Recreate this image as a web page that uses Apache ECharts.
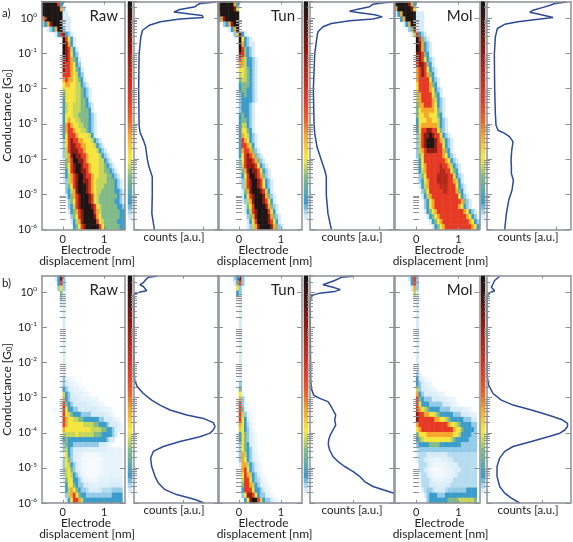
<!DOCTYPE html>
<html><head><meta charset="utf-8">
<style>html,body{margin:0;padding:0;background:#fff}#c{width:573px;height:542px;filter:blur(0.4px)}</style>
<script src="https://cdn.jsdelivr.net/npm/echarts@6/dist/echarts.min.js"></script>
</head><body><div id="c"></div>
<script>
// Each heatmap row runs top to bottom: [first column, level, level, ...]; columns not listed are level 0.
const aRawRows=[
[0,10,10,10,10,10,10,8,3],[0,10,10,10,10,10,10,10,7,2],[0,10,10,10,10,10,10,10,10,1,1],[0,7,9,10,10,10,10,10,10,1,1,1],
[0,2,3,7,9,10,10,10,10,1,1,1],[2,1,2,3,7,10,10,2,1,1],[5,1,3,8,9,3,2,1],[8,10,8,6,3,1],[8,10,9,7,3,1],[8,10,9,8,5,3,1],
[8,10,9,8,6,3,2],[8,9,9,8,7,4,3,1],[8,9,8,8,7,6,3,2],[8,9,8,8,7,6,4,3,1],[8,8,8,8,7,6,5,3,2],[8,7,8,7,7,6,5,4,3,1],
[8,6,7,7,6,6,5,5,3,2,1],[8,5,6,6,6,6,5,5,4,3,2,1],[8,4,6,6,6,6,5,5,4,3,2,1],[8,3,6,6,6,6,5,5,4,4,3,1],[8,3,5,6,6,5,5,5,4,4,3,2,1],
[8,3,5,6,6,5,5,5,4,4,4,3,1],[8,3,6,6,6,5,5,4,4,4,4,3,2,1],[8,3,6,7,6,6,5,5,4,4,4,3,2,1],[8,3,7,8,7,6,6,5,5,4,4,3,2,1],
[8,3,7,8,8,7,6,6,5,5,4,3,2,1],[8,3,6,8,8,8,7,6,6,6,6,5,3,1],[8,2,6,8,9,8,8,7,7,6,6,6,5,3,2,1],[8,2,6,8,9,9,8,8,7,7,6,6,6,5,3,2,1],
[8,2,5,8,9,9,9,8,8,7,6,6,6,6,5,3,2,1],[8,2,5,7,9,10,9,9,8,8,7,6,6,6,6,5,3,2,1],[8,1,4,7,8,10,10,9,9,8,7,6,6,6,6,5,5,3,2,1],
[8,1,4,6,8,9,10,10,9,8,8,7,6,6,6,5,5,4,3,2,1],[8,1,3,6,8,9,10,10,9,9,8,7,6,6,6,5,5,4,4,3,2,1],[8,1,3,5,7,8,9,10,10,9,8,8,7,6,6,5,5,5,4,4,3,2,1],
[8,1,2,5,7,8,9,10,10,9,9,8,7,6,5,5,5,5,4,4,4,3,2,1],[9,2,4,6,8,9,10,10,10,9,8,7,6,5,5,5,4,4,4,4,3,2,1],[9,2,3,5,7,9,10,10,10,9,8,7,6,5,5,4,4,4,4,4,3,3,2,1],
[9,1,3,4,7,8,9,10,10,10,9,8,6,5,4,4,4,4,4,4,4,3,2,1],[10,2,4,6,8,9,10,10,10,9,8,6,5,4,4,4,4,4,4,3,3,2,1],[10,2,3,5,8,9,10,10,10,10,9,8,6,5,4,4,4,4,4,4,3,3,2,1],
[10,1,3,4,7,8,9,10,10,10,10,8,7,5,4,4,4,4,4,4,4,3,3,2,1],[11,2,4,6,8,9,10,10,10,10,9,7,6,4,4,4,4,4,4,4,3,3,2,1],[11,1,3,5,7,9,10,10,10,10,10,8,6,5,4,4,4,4,4,3,3,3,2],[12,3,4,6,8,9,10,10,10,10,10,8,6,4,4,4,4,4,4,3,3]];
const aTunRows=[
[0,10,10,10,10,10,10,7,3],[0,10,10,10,10,10,10,9,5],[0,9,10,10,10,10,10,10,10],[0,3,7,9,10,10,10,10,10],[2,2,3,7,9,10,10],[4,1,3,7,10],[6,2,5,9,3,1],
[8,10,6,3,2,1],[8,10,7,3,2,1,1],[8,10,8,4,3,2,1],[8,9,8,4,3,2,1],[8,8,7,5,3,3,2,1],[8,7,7,5,3,3,2,1],[8,6,6,5,4,3,2,1],[8,5,6,5,4,3,2,1],[8,4,5,5,4,3,2,1],
[8,3,4,4,4,3,2,1],[8,3,4,4,3,3,2,1],[8,2,3,4,3,3,2,1],[8,2,3,3,3,3,2,1],[8,2,3,3,3,2,1],[8,2,3,3,3,2,1],[8,3,4,3,3,2,1],[8,3,4,4,3,2,1],[8,3,5,5,3,2,1],
[8,3,6,6,4,3,1],[8,3,7,6,5,3,2,1],[8,3,8,7,6,3,2,1],[8,3,8,8,7,5,3,1],[8,3,7,8,8,7,4,2,1],[8,3,6,8,9,8,7,4,2,1],[8,2,6,8,9,9,8,7,4,2,1],[8,2,5,8,9,9,9,8,6,3,2,1],
[8,1,4,7,9,10,9,9,8,6,3,2,1],[8,1,3,6,8,10,10,9,8,7,4,2,1],[8,1,2,5,8,9,10,10,9,8,6,3,2,1],[9,2,5,8,9,10,10,9,8,6,3,2,1],[9,1,4,7,9,10,10,10,9,8,5,3,1],
[9,1,3,6,8,9,10,10,10,9,7,4,2,1],[9,1,2,5,7,9,10,10,10,9,8,6,3,1],[10,1,4,6,8,10,10,10,10,9,7,4,2,1],[10,1,3,5,8,9,10,10,10,10,8,6,3,1],[11,2,4,7,9,10,10,10,10,9,7,4,2,1],
[11,1,3,6,8,10,10,10,10,9,8,6,3,1],[11,1,2,5,7,9,10,10,10,10,9,7,4,2,1]];
const aMolRows=[
[0,10,10,10,10,10,9,7,3],[0,7,10,10,10,10,10,9,5],[0,1,3,7,10,10,10,10,10,1,1,1],[2,3,7,10,10,10,10,1,1,1],[3,1,3,7,10,10,1,1,1],[5,2,4,9,1,1,1],[6,1,5,8,3,2,1],
[8,10,8,4,2,1],[8,10,9,7,3,2,1],[8,10,9,7,3,2,1],[8,9,9,8,4,3,1],[8,9,9,8,6,3,2,1],[8,8,9,9,8,4,3,1],[8,7,8,9,8,6,3,2,1],[8,7,8,9,8,7,4,3,1],[8,7,8,8,8,8,6,3,2,1],
[8,6,8,8,8,8,7,4,3,1],[8,6,8,8,8,8,7,6,3,2,1],[8,5,7,8,8,8,8,6,4,3,1],[8,5,7,8,8,8,8,7,5,3,2,1],[8,4,7,7,8,8,8,7,6,3,2,1],[8,4,6,7,7,7,7,7,6,4,2,1],[8,4,6,6,7,7,6,6,6,4,3,1],
[8,3,6,6,6,7,7,6,6,5,3,2,1],[8,3,6,7,7,7,7,7,7,5,3,2,1],[8,3,6,8,8,9,9,8,8,6,4,2,1],[8,2,5,8,9,9,10,9,8,8,6,3,2,1],[8,2,5,8,9,10,10,10,9,8,7,5,3,2,1],[8,2,5,8,9,10,10,10,9,8,8,6,3,2,1],
[8,2,5,7,8,9,9,9,9,8,8,7,4,3,1],[8,2,4,6,8,8,8,8,8,8,8,7,6,3,2,1],[8,1,3,6,8,8,8,8,8,8,8,8,7,6,3,2,1],[8,1,3,6,7,8,8,8,8,8,8.6,8,8,7,5,3,2,1],[8,1,3,5,7,8,8,8,8,8,8.6,8.6,8,8,6,4,3,1],
[9,2,4,6,8,8,8,8,8.6,8.6,8.6,8.6,8,8,6,3,2,1],[9,2,3,6,7,8,8,8,8.6,8.6,8.6,8.6,8,8,7,5,3,1],[9,1,3,5,7,8,8,8,8,8.5,8.5,8.5,8,8,8,6,3,2,1],[10,2,4,6,8,8,8,8,8,8.4,8.4,8,8,8,7,4,3,1],[10,1,3,5,7,8,8,8,8,8,8,8,8,8,8,6,3,2,1],
[11,2,3,6,7,8,8,8,8,8,8,8,8,8,8,7,4,2,1],[11,2,3,6,7,8,8,8,8,8,8,8,8,8,7,6,3,2,1],[11,1,3,4,6,7,8,8,8,8,8,8,8,8,8,8,7,6,3,2,1],[12,1,3,4,6,7,8,8,8,8,8,8,8,8,8,8,7,6,3,2],
[13,1,3,4,6,7,8,8,8,8,8,8,8,8,8,8,7,6,3,2],[14,1,3,4,6,7,8,8,8,8,8,8,8,8,8,8,7,6,3]];
const bRawRows=[
[5,1,3,9,2],[6,3,8,2],[6,2,6,2],[7,4,1],[7,2,1],[7,1,1],[8,1],[8,1],[8,1],[8,1],[8,1],[8,1],[8,1],[8,1],[8,1],[8,1],[8,1],[8,1],[8,1],[8,1],
[8,2,.7,.5,.4,.3],[8,2,1,.7,.6,.5,.4,.3],[8,3,2,1,.8,.7,.6,.5,.4,.3],[8,5,3,2,1,.8,.7,.7,.6,.5,.4,.3],[8,7,3,2,1,1,1,.8,.7,.7,.6,.6,.5,.5,.4],[8,8,4,3,2,1,1,1,1,1,.8,.8,.7,.6,.6,.5,.4],
[8,8,6,3,3,2,2,1,1,1,1,1,1,1,.8,.7,.7,.6,.5,.4],[8,8,6,5,4,3,3,3,2,2,2,2,1,1,1,1,1,.8,.7,.6,.4],[8,8,7,6,6,5,5,4,4,3,3,3,3,3,3,2,2,1,1,1,.8,.6,.4],[8,8,7,6,6,6,6,6,6,5,5,5,5,4,4,3,3,3,2,1,1,1,.8,.5],
[8,7,6,6,6,6,6,6,6,6,6,6,5,5,5,5,4,4,3,3,2,1,.8,.6],[8,5,5,5,5,5,6,5,5,5,5,5,5,4,4,4,3,3,3,3,2,1],[8,3,4,3,3,3,3,3,3,3,3,3,3,3,3,3,3,3,2,1,1],[8,2,4,3,3,2,2,2,2,2,2,2,2,2,2,1,1,1,.7],
[8,2,5,3,2,1,1,1,1,.8,.8,.8,.8,.8,.8,.8,.8,.8,.7,.7,.7,.6,.6,.6],[8,1,6,3,2,1,.8,.7,.6,.4,.3,.3,.3,.3,.4,.5,.6,.6,.6,.6,.6,.6,.6,.6],[8,2,6,4,2,1,.8,.6,.4,.3,.2,.2,.2,.2,.2,.3,.5,.6,.6,.6,.6,.6,.6,.6],[8,2,6,5,3,2,1,.7,.4,.3,.2,.2,.2,.2,.2,.3,.5,.6,.6,.6,.6,.6,.6,.6],
[8,2,5,6,4,2,1,.7,.4,.3,.2,.2,.2,.2,.2,.3,.5,.6,.6,.6,.6,.6,.6,.6],[8,1,5,6,5,3,2,1,.6,.4,.3,.3,.3,.3,.3,.4,.5,.6,.6,.7,.7,.7,.7,.7],[8,1,4,6,6,3,3,2,1,.7,.6,.4,.4,.4,.4,.6,.7,.7,.7,.8,.8,.8,.8,.8],[9,3,6,6,4,3,2,2,1,1,.8,.8,.7,.7,.8,.8,.8,.8,1,1,1,1,1],
[9,3,5,7,6,4,3,2,2,1.5,1,1,1,1,1,1.5,1.5,1.5,1.5,2,2,2,2],[9,2,5,7,8,6,4,3,3,2,2,2,2,2,2,2,2,2,2,3,3,3,3],[9,1,3,6,8,8,7,5,3,3,3,3,3,3,3,3,3,3,3,3,3,3,3]];
const bTunRows=[
[6,2,3,9,2],[6,1,4,8,2],[7,6,2],[7,3,2],[8,1],[8,1],[8,1],[8,1],[8,1],[8,1],[8,1],[8,1],[8,1],[8,1],[8,1],[8,1],[8,1],[8,1],[8,1],[8,1],[8,1],
[8,2],[8,4],[8,6,.8],[8,7,2],[8,8,2,.6],[8,8,4,.8,.4],[8,8,5,2,.7,.4],[8,8,6,3,1,.5],[8,7,6,3,1.5,.7,.3],[8,5,6,3,2,.8,.4],[8,3,6,4,2,1,.6,.3],[8,3,6,4,2,1,.7,.3],[8,2,6,4,3,1,.7,.4],[8,2,6,4,3,2,.8,.5],
[8,2,7,5,3,2,1,.6,.3],[8,2,7,6,3,2,1,.7,.3],[8,1,7,7,5,3,2,1,.6,.3],[9,7,8,6,3,2,1,.7,.3],[9,6,8,7,5,3,2,1,.6,.3],[9,5,8,8,6,3,2,1.5,.8,.5,.3],[9,4,8,8,7,5,3,2,1,.7,.5,.3],[9,3,8,8,8,6,3,3,2,1,.7,.4],[9,2,6,9,9,8,6,3,2,2,1,.7,.4],[10,3,6,9,10,10,8,5,3,2,2,1,.7,.4]];
const bMolRows=[
[5,1,3,8,2],[6,3,8,2],[6,1,7,2],[7,5,1],[7,1,1],[8,1],[8,1],[8,1],[8,1],[8,1],[8,1],[8,1],[8,1],[8,1],[8,1],[8,1],[8,1],[8,1],[8,1],[8,2,.7],
[8,3,1,.7,.4],[8,3,2,1,.8,.6,.4],[8,5,2,1,1,.8,.7,.6,.4],[8,7,3,2,1,1,1,.8,.8,.7,.6,.4],[8,8,4,3,2,2,2,1,1,1,.8,.8,.7,.6,.5,.4],[8,8,6,3,3,3,2,2,2,2,2,1,1,1,.8,.6,.4],[8,8,7,6,5,4,3,3,3,3,2,2,2,2,1,1,1,1,.8,.7,.6,.4],
[8,9,8,8,7,7,6,6,5,4,3,3,3,3,3,2,2,2,1,1,1,.8,.7,.6],[8,9,8,8,8,8,8,8,7,7,6,6,5,4,3,3,3,3,3,2,2,2,1,1],[8,7,8,8,8,8,8,8,8,8,8,8,8,7,6,6,5,4,3,3,3,3,2,2],[8,6,7,8,8,8,8,8,8,8,8,8,8,8,8,7,6,6,4,3,3,3,3,2],
[8,4,6,6,6,7,7,7,7,7,7,7,7,7,7,6,6,5,3,3,3,3,2,2],[8,3,4,5,6,6,6,6,6,6,6,6,6,6,5,4,3,3,3,3,3,2,2,2],[8,2,3,3,3,3,4,4,4,4,3,3,3,3,3,3,3,3,2,2,2,2,2,2],[8,1,2,2,2,2,2,2,2,2,2,2,2,2,2,2,2,2,2,2,2,2,2,2],
[8,.8,1.5,1.5,1.5,1,1,1,1,1,1,1,1,1.5,1.5,1.5,1.5,1.5,1.5,1.5,1.5,1.5,1.5,1.5],[8,.7,1.5,1.5,1,1,.7,.7,.6,.6,.7,.8,.8,1,1,1.5,1.5,1.5,1.5,1.5,1.5,1.5,1.5,1.5],[9,1.5,1.5,1.5,1,.7,.5,.4,.4,.4,.5,.6,.7,.8,.8,1,1.5,1.5,1.5,1.5,1.5,1.5,1.5],[9,1.5,1.5,1,.8,.5,.3,.2,.2,.3,.4,.5,.6,.7,.8,1,1,1.5,1.5,1.5,1.5,1.5,1.5],
[9,.7,1.5,1.5,1,.7,.4,.3,.3,.3,.4,.5,.6,.7,.8,1,1.5,1.5,1.5,1.5,1.5,1.5,1.5],[9,.6,1.5,1.5,1.5,1,.7,.6,.6,.6,.7,.7,.8,.8,1.5,1.5,1.5,1.5,1.5,1.5,1.5,1.5,1.5],[10,1.5,1.5,1.5,1,1,1,.8,.8,.8,1,1,1.5,1.5,1.5,1.5,1.5,1.5,1.5,1.5,1.5,1.5],[10,.8,1.5,2,2,1.5,1,1,1,1,1.5,2,2,2,2,2,2,2,3,3,3,3],
[11,1,2,3,3,3,2,2,2,3,3,3,3,3,3,3,3,3,3,3,3],[12,2,3,3,3,3,3,3,3,4,4,4,4,5,5,5,5,5,5,4]];
// colour bar levels, bottom to top
const barLevels=[0,0.3,1,1.7,2.4,3,3.2,3.4,3.6,3.8,4,4.5,5,5.6,6,6.2,6.5,6.8,7,7.2,7.4,7.6,7.7,7.8,7.9,8,8.1,8.2,8.3,8.4,8.5,8.6,8.7,8.8,8.9,9,9.1,9.2,9.35,9.5,9.6,9.7,9.8,9.9,10];
const levelColors=['#ffffff','#d8ecf8','#93cbe8','#3c9dcb','#82bb88','#c4d75c','#f5e53f','#f6a82d','#e63a24','#8c1c12','#1c1514'];
// histograms: [counts (a.u.), log10 conductance]
const aRawLine=[[.24,-6],[.21,-5.55],[.215,-5.02],[.215,-4.5],[.176,-4.22],[.157,-4.01],[.137,-3.65],[.11,-3.46],[.07,-3.23],[.06,-3.04],[.055,-2.01],[.06,-1.02],[.08,-.53],[.10,-.34],[.18,-.2],[.31,-.1],[.54,-.02],[.815,.02],[.80,.08],[.66,.12],[.47,.18],[.54,.25],[.72,.33],[.745,.38],[.776,.42],[.97,.46]];
const aTunLine=[[.254,-6],[.214,-5.55],[.194,-5.02],[.194,-4.5],[.175,-4.31],[.147,-4.12],[.123,-3.94],[.083,-3.65],[.056,-3.27],[.048,-2.98],[.04,-2.01],[.056,-1.02],[.083,-.53],[.095,-.38],[.155,-.24],[.254,-.15],[.472,-.07],[.75,-.02],[.86,.04],[.77,.10],[.59,.16],[.47,.2],[.57,.26],[.71,.33],[.75,.40],[.87,.44],[1,.46]];
const aMolLine=[[.212,-6],[.232,-5.55],[.26,-5.17],[.30,-4.88],[.316,-4.6],[.292,-4.41],[.292,-4.22],[.288,-4.03],[.296,-3.75],[.312,-3.51],[.272,-3.37],[.212,-3.27],[.132,-3.18],[.108,-3.04],[.10,-2.7],[.092,-2.01],[.088,-1.02],[.10,-.53],[.124,-.29],[.212,-.17],[.372,-.1],[.612,-.03],[.792,.02],[.772,.07],[.612,.12],[.512,.17],[.552,.23],[.672,.31],[.764,.38],[.812,.42],[.952,.46]];
const bRawLine=[[.824,-6],[.718,-5.9],[.50,-5.76],[.365,-5.62],[.286,-5.43],[.247,-5.24],[.208,-4.96],[.196,-4.72],[.227,-4.53],[.345,-4.39],[.54,-4.25],[.776,-4.11],[.894,-4.01],[.933,-3.92],[.953,-3.82],[.933,-3.71],[.816,-3.59],[.62,-3.49],[.424,-3.35],[.306,-3.21],[.208,-3.07],[.11,-2.88],[.04,-2.69],[.008,-2.5],[0,-2.22],[0,-.32],[.004,-.04],[.07,.01],[.15,.05],[.16,.10],[.11,.17],[.07,.22],[.11,.28],[.137,.36],[.169,.43],[.267,.46]];
const bTunLine=[[1,-5.72],[.87,-5.62],[.75,-5.53],[.65,-5.39],[.59,-5.24],[.51,-5.1],[.413,-4.96],[.333,-4.82],[.274,-4.68],[.234,-4.49],[.218,-4.34],[.222,-4.2],[.242,-4.06],[.274,-3.92],[.306,-3.78],[.294,-3.63],[.306,-3.49],[.274,-3.35],[.242,-3.21],[.214,-3.11],[.115,-3.02],[.044,-2.93],[.016,-2.74],[.008,-2.5],[0,-.32],[.016,-.09],[.115,-.02],[.294,.03],[.361,.08],[.274,.15],[.155,.22],[.175,.27],[.294,.34],[.373,.43],[.512,.46]];
const bMolLine=[[.392,-6],[.292,-5.86],[.212,-5.72],[.152,-5.53],[.12,-5.24],[.12,-4.96],[.152,-4.72],[.212,-4.53],[.312,-4.39],[.532,-4.25],[.732,-4.11],[.872,-4.01],[.932,-3.92],[.964,-3.82],[.964,-3.73],[.892,-3.62],[.732,-3.49],[.532,-3.35],[.312,-3.21],[.172,-3.07],[.072,-2.88],[.02,-2.64],[.004,-2.4],[0,-.32],[.008,-.09],[.032,-.01],[.092,.05],[.052,.15],[.072,.24],[.092,.34],[.152,.46]];
const panelNames=['Raw','Tun','Mol'];
const majorTicks=[1e-6,1e-5,1e-4,1e-3,1e-2,1e-1,1];
const minorMultiples=[2,3,4,5,6,7,8,9];
const countTicks=[[.81,.83,.83],[.58,.52,.66]];
const dispTicks=[0,1];
const heatLeft=[42,218,395], heatW=[83,84,84.5];
const barLeft=[128,304,481];
const lineLeft=[134,310,487], lineW=[85,84,83.5];
const rowTop=[1.5,275.7], rowH=[228,227.3];
const dispLabelX=[87,264.5,440.5], countLabelX=[174,352,528];
const FONT='Lato', AX='#8b9095', TXT='#222';
const heatData=[[aRawRows,aTunRows,aMolRows],[bRawRows,bTunRows,bMolRows]];
const lineData=[[aRawLine,aTunLine,aMolLine],[bRawLine,bTunLine,bMolLine]];
const minorTicks=[];
majorTicks.forEach(t=>minorMultiples.forEach(m=>{if(t*m<=3)minorTicks.push(t*m)}));
const grids=[],xAxes=[],yAxes=[],series=[],graphic=[],heatIdx=[];

function label(text,x,y,size){
  graphic.push({type:'text',x,y,z:20,style:{text,fontFamily:FONT,fontSize:size,fill:TXT,textAlign:'center',textVerticalAlign:'middle'}});
}
function catGrid(l,t,w,h,nx,ny,inverse){
  const g=grids.length; grids.push({left:l,top:t,width:w,height:h,show:false});
  xAxes.push({gridIndex:g,type:'category',show:false,data:[...Array(nx).keys()]});
  yAxes.push({gridIndex:g,type:'category',show:false,inverse,data:[...Array(ny).keys()]});
  return [xAxes.length-1,yAxes.length-1];
}
function heat(xi,yi,data){heatIdx.push(series.length);
  series.push({type:'heatmap',xAxisIndex:xi,yAxisIndex:yi,data,z:2,silent:true,progressive:0,animation:false});}
function frame(l,t,w,h,xmin,xmax,xTicks,xLabels,yLabels){
  const g=grids.length; grids.push({left:l,top:t,width:w,height:h,show:false});
  const line={show:true,onZero:false,lineStyle:{color:AX,width:1.5}};
  const bottom=xAxes.length;
  xAxes.push({gridIndex:g,type:'value',position:'bottom',min:xmin,max:xmax,z:10,splitLine:{show:false},axisLine:line,
    axisTick:{show:true,inside:true,length:3,customValues:xTicks,lineStyle:{color:AX,width:1}},
    axisLabel:xLabels?{show:true,customValues:xLabels,margin:4,fontFamily:FONT,fontSize:11,color:TXT}:{show:false}});
  xAxes.push({gridIndex:g,type:'value',position:'top',min:xmin,max:xmax,z:10,splitLine:{show:false},axisLine:line,
    axisTick:{show:true,inside:true,length:3,customValues:xTicks,lineStyle:{color:AX,width:1}},axisLabel:{show:false}});
  const left=yAxes.length;
  ['left','right'].forEach(pos=>{
    const lab=pos==='left'&&yLabels;
    const y={gridIndex:g,type:'log',logBase:10,position:pos,min:1e-6,max:3,z:10,splitLine:{show:false},axisLine:line,
      axisTick:{show:true,inside:true,length:5,customValues:majorTicks,lineStyle:{color:AX,width:1}},
      axisLabel:lab?{show:true,customValues:majorTicks,margin:5,
        formatter:v=>'{b|10}{s|'+Math.round(Math.log10(v))+'}',
        rich:{b:{fontFamily:FONT,fontSize:11,color:TXT},s:{fontFamily:FONT,fontSize:6.5,color:TXT,padding:[0,0,7,0]}}}:{show:false}};
    if(lab){y.name='{n|Conductance [G}{s|0}{n|]}';y.nameLocation='middle';y.nameGap=28;y.nameRotate=90;
      y.nameTextStyle={rich:{n:{fontFamily:FONT,fontSize:12,color:TXT},s:{fontFamily:FONT,fontSize:7.5,color:TXT,padding:[6,0,0,0]}}};}
    yAxes.push(y);
    yAxes.push({gridIndex:g,type:'log',logBase:10,position:pos,min:1e-6,max:3,z:10,splitLine:{show:false},axisLine:{show:false},
      axisTick:{show:true,inside:true,length:3,customValues:minorTicks,lineStyle:{color:AX,width:1}},axisLabel:{show:false}});
  });
  return [bottom,left];
}
heatData.forEach((row,ri)=>{
  const t=rowTop[ri],h=rowH[ri],b=t+h;
  row.forEach((rows,ci)=>{
    const [hx,hy]=catGrid(heatLeft[ci],t,heatW[ci],h,32,45,true);
    const cells=[];
    rows.forEach((r,y)=>{for(let i=1;i<r.length;i++){const c=r[0]+i-1;if(c<32&&r[i]>0)cells.push([c,y,r[i]]);}});
    heat(hx,hy,cells);
    frame(heatLeft[ci],t,heatW[ci],h,-.5,1.5,dispTicks,dispTicks,ci===0);
    const [bx,by]=catGrid(barLeft[ci],t,4,h,1,45,false);
    heat(bx,by,barLevels.map((v,i)=>[0,i,v]));
    const [lx,ly]=frame(lineLeft[ci],t,lineW[ci],h,0,1,[countTicks[ri][ci]],null,false);
    series.push({type:'line',xAxisIndex:lx,yAxisIndex:ly,showSymbol:false,z:5,silent:true,animation:false,
      lineStyle:{color:'#2c4a96',width:1.5},data:lineData[ri][ci].map(p=>[p[0],Math.pow(10,p[1])])});
    graphic.push({type:'text',right:573-(heatLeft[ci]+heatW[ci]-7),top:t+7,z:20,
      style:{text:panelNames[ci],fontFamily:FONT,fontSize:15,fill:TXT}});
    label('Electrode',dispLabelX[ci]-1,b+20.5,12);
    label('displacement [nm]',dispLabelX[ci],b+31.5,12);
    label('counts [a.u.]',countLabelX[ci],b+7.5,11.5);
  });
});
graphic.push({type:'text',left:2,top:7,z:20,style:{text:'a)',fontFamily:FONT,fontSize:11.5,fill:TXT}});
graphic.push({type:'text',left:2,top:277,z:20,style:{text:'b)',fontFamily:FONT,fontSize:11.5,fill:TXT}});
const chart=echarts.init(document.getElementById('c'),null,{renderer:'canvas'});
chart.setOption({animation:false,backgroundColor:'#fff',grid:grids,xAxis:xAxes,yAxis:yAxes,series,graphic,
  visualMap:{show:false,type:'continuous',min:0,max:10,seriesIndex:heatIdx,inRange:{color:levelColors}}});
</script></body></html>
